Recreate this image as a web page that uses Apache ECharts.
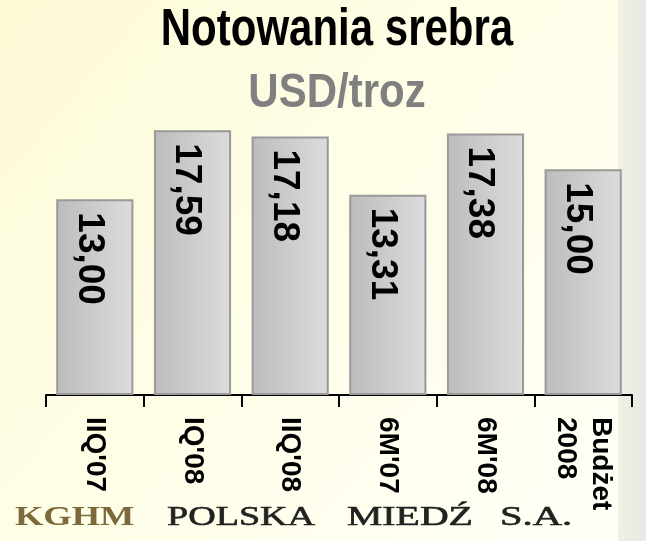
<!DOCTYPE html>
<html>
<head>
<meta charset="utf-8">
<script src="https://cdn.jsdelivr.net/npm/echarts@6/dist/echarts.min.js"></script>
<style>
  html, body { margin: 0; padding: 0; }
  #chart { width: 646px; height: 541px; }
</style>
</head>
<body>
<div id="chart"></div>
<script>
// dane z wykresu
let categories = ["IIQ'07", "IQ'08", "IIQ'08", "6M'07", "6M'08", "Budżet\n2008"]
let values = [13.00, 17.59, 17.18, 13.31, 17.38, 15.00]
let titleText = 'Notowania srebra'
let unitText = 'USD/troz'

let myChart = echarts.init(document.getElementById('chart'))
let option = {
    animation: false,
    graphic: [
        { // tlo slajdu
            type: 'rect', z: -10, silent: true,
            shape: { x: 0, y: 0, width: 646, height: 541 },
            style: {
                fill: new echarts.graphic.LinearGradient(0, 0, 1, 1, [
                    { offset: 0, color: '#fcfad6' },
                    { offset: 0.5, color: '#fffee9' },
                    { offset: 1, color: '#fffff8' }
                ])
            }
        },
        { // szary pasek z prawej
            type: 'rect', z: -9, silent: true,
            shape: { x: 618, y: 0, width: 28, height: 541 },
            style: {
                fill: new echarts.graphic.LinearGradient(0, 0, 1, 0, [
                    { offset: 0, color: '#f1f0e2' },
                    { offset: 1, color: '#e8e8e6' }
                ])
            }
        },
        {
            type: 'text', x: 337, y: 31, scaleY: 1.23,
            style: {
                text: titleText, align: 'center', verticalAlign: 'middle',
                font: 'bold 42px "Liberation Sans", Arial, sans-serif', fill: '#000'
            }
        },
        {
            type: 'text', x: 337, y: 94, scaleY: 1.16,
            style: {
                text: unitText, align: 'center', verticalAlign: 'middle',
                font: 'bold 42px "Liberation Sans", Arial, sans-serif', fill: '#808080'
            }
        },
        // logo KGHM na dole
        {
            type: 'text', x: 15, y: 518, scaleX: 1.3,
            style: {
                text: 'KGHM', verticalAlign: 'middle',
                font: 'bold 28px "Liberation Serif", "Times New Roman", serif', fill: '#7d6a3c'
            }
        },
        {
            type: 'text', x: 167, y: 518, scaleX: 1.36,
            style: {
                text: 'POLSKA', verticalAlign: 'middle',
                font: '28px "Liberation Serif", "Times New Roman", serif', fill: '#222',
                stroke: '#222', lineWidth: 0.6
            }
        },
        {
            type: 'text', x: 347, y: 518, scaleX: 1.42,
            style: {
                text: 'MIEDŹ', verticalAlign: 'middle',
                font: '28px "Liberation Serif", "Times New Roman", serif', fill: '#222',
                stroke: '#222', lineWidth: 0.6
            }
        },
        {
            type: 'text', x: 500, y: 518, scaleX: 1.45,
            style: {
                text: 'S.A.', verticalAlign: 'middle',
                font: '28px "Liberation Serif", "Times New Roman", serif', fill: '#222',
                stroke: '#222', lineWidth: 0.6
            }
        }
    ],
    grid: {
        top: 94,
        left: 46,
        right: 14,
        bottom: 146
    },
    xAxis: {
        type: 'category',
        data: categories,
        axisLine: {
            show: true,
            lineStyle: { color: '#000', width: 2 }
        },
        axisTick: {
            show: true,
            length: 12,
            lineStyle: { color: '#000', width: 2 }
        },
        axisLabel: {
            rotate: -90,
            margin: 22,
            color: '#000',
            fontSize: 28,
            fontWeight: 'bold',
            fontFamily: '"Liberation Sans", Arial, sans-serif',
            lineHeight: 35
        }
    },
    yAxis: {
        type: 'value',
        min: 0,
        max: 20,
        show: false
    },
    series: [{
        type: 'bar',
        data: values,
        barWidth: '79%',
        itemStyle: {
            color: new echarts.graphic.LinearGradient(0, 0, 1, 0, [
                { offset: 0, color: '#bcbcbc' },
                { offset: 1, color: '#dcdcdc' }
            ]),
            borderColor: '#999999',
            borderWidth: 2
        },
        label: {
            show: true,
            position: 'insideTop',
            rotate: -90,
            align: 'left',
            verticalAlign: 'middle',
            distance: 13,
            offset: [0, 6],
            color: '#000',
            fontSize: 37,
            fontWeight: 'bold',
            fontFamily: '"Liberation Sans", Arial, sans-serif',
            formatter: function (p) {
                return p.value.toFixed(2).replace('.', ',')
            }
        }
    }]
}
myChart.setOption(option)
</script>
</body>
</html>
